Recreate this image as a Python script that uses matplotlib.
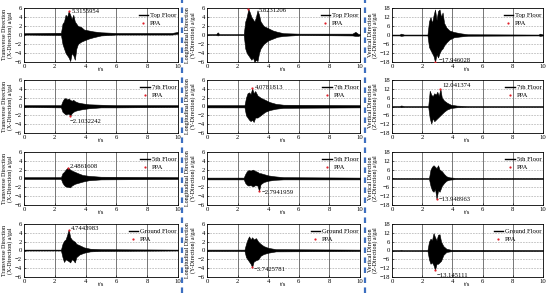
import matplotlib
matplotlib.use('Agg')
import matplotlib.pyplot as plt
from matplotlib.lines import Line2D

plt.rcParams['font.family'] = ['Liberation Serif', 'DejaVu Serif']

floors = ['Top Floor', '7th Floor', '5th Floor', 'Ground Floor']
directions = ['Transverse Direction\n(X-Direction) a/gal',
              'Longitudinal Direction\n(Y-Direction) a/gal',
              'Vertical Direction\n(Z-Direction) a/gal']

# envelope of each record: time, upper, lower
x_top_t = [0, 2.4, 2.5, 2.6, 2.7, 2.8, 2.9, 3.0, 3.1, 3.2, 3.3, 3.4, 3.5, 3.7, 3.9, 4.2, 4.5, 5.0, 6.0, 9.6, 10]
x_top_hi = [0.4, 0.5, 2.5, 3.0, 4.5, 4.0, 5.3, 4.5, 3.5, 4.5, 3.0, 2.5, 2.0, 1.8, 1.2, 1.0, 0.8, 0.6, 0.45, 0.45, 0.7]
x_top_lo = [0.1, 0.0, -2.0, -3.0, -4.0, -4.5, -5.0, -5.8, -4.0, -4.5, -5.5, -3.0, -2.0, -1.5, -1.2, -0.8, -0.5, -0.1, 0.1, 0.1, 0.3]

y_top_t = [0, 0.6, 0.7, 0.8, 2.4, 2.5, 2.6, 2.7, 2.8, 2.9, 3.0, 3.1, 3.2, 3.3, 3.4, 3.5, 3.7, 4.0, 4.3, 4.6, 5.0, 6.0, 9.5, 9.7, 9.9, 10]
y_top_hi = [0.2, 0.2, 0.6, 0.2, 0.2, 3.0, 4.0, 5.8, 5.0, 4.0, 3.5, 3.0, 4.0, 5.5, 4.5, 3.0, 2.0, 1.5, 1.0, 0.7, 0.4, 0.3, 0.3, 0.7, 0.2, 0.2]
y_top_lo = [0.0, 0.0, -0.1, 0.0, 0.0, -3.0, -4.0, -4.5, -5.0, -5.5, -5.0, -6.0, -5.5, -5.8, -4.0, -3.0, -2.0, -1.2, -0.8, -0.4, -0.2, 0.0, -0.1, -0.2, -0.2, 0.0]

z_top_t = [0, 0.5, 0.6, 0.8, 2.35, 2.45, 2.55, 2.65, 2.75, 2.85, 2.95, 3.05, 3.15, 3.25, 3.35, 3.45, 3.6, 3.8, 4.1, 4.5, 5.0, 9.7, 9.8, 10]
z_top_hi = [0.3, 0.3, 0.9, 0.3, 0.3, 9, 12, 8, 13, 17, 10, 16, 17, 12, 15, 8, 5, 3, 2, 1.2, 0.5, 0.3, 0.9, 0.3]
z_top_lo = [-0.3, -0.3, -0.6, -0.3, -0.3, -8, -10, -12, -14, -17.9, -13, -15, -12, -10, -9, -7, -5, -3, -1.5, -1, -0.5, -0.3, -0.6, -0.3]

x_7_t = [0, 2.4, 2.5, 2.6, 2.7, 2.8, 2.9, 3.0, 3.1, 3.2, 3.3, 3.5, 3.8, 4.2, 5.0, 6.0, 10]
x_7_hi = [0.3, 0.3, 1.2, 1.8, 1.9, 1.6, 1.8, 1.5, 1.3, 1.5, 1.2, 0.9, 0.7, 0.5, 0.4, 0.3, 0.3]
x_7_lo = [-0.1, -0.2, -1.2, -1.5, -1.8, -1.7, -1.6, -2.1, -1.5, -1.2, -1.0, -0.8, -0.6, -0.4, -0.2, -0.2, -0.1]

y_7_t = [0, 2.45, 2.55, 2.65, 2.75, 2.85, 2.95, 3.05, 3.15, 3.3, 3.5, 3.8, 4.1, 4.5, 5.0, 10]
y_7_hi = [0.3, 0.3, 2.0, 3.0, 3.2, 2.8, 4.08, 3.0, 3.5, 2.5, 2.0, 1.5, 1.0, 0.6, 0.4, 0.3]
y_7_lo = [-0.2, -0.2, -2.0, -2.5, -3.0, -3.3, -3.0, -3.5, -2.5, -2.5, -2.0, -1.2, -0.8, -0.5, -0.3, -0.2]

z_7_t = [0, 0.5, 0.6, 0.8, 2.4, 2.5, 2.6, 2.7, 2.8, 2.9, 3.0, 3.1, 3.2, 3.3, 3.45, 3.65, 3.9, 4.3, 5.0, 10]
z_7_hi = [0.3, 0.3, 0.7, 0.3, 0.3, 10.7, 8, 7, 9, 8, 10, 7, 12.04, 6, 4, 2.5, 1.2, 0.6, 0.3, 0.3]
z_7_lo = [-0.3, -0.3, -0.5, -0.3, -0.3, -8, -11.6, -8, -10, -9, -8, -7, -6, -5, -3.5, -2, -1, -0.5, -0.3, -0.3]

x_5_t = [0, 2.4, 2.5, 2.6, 2.7, 2.85, 3.0, 3.1, 3.3, 3.5, 3.8, 4.2, 5.0, 10]
x_5_hi = [0.3, 0.3, 1.2, 1.5, 2.0, 2.49, 2.0, 1.8, 1.5, 1.2, 0.8, 0.6, 0.4, 0.3]
x_5_lo = [-0.1, -0.1, -1.0, -1.5, -1.8, -1.9, -2.0, -1.6, -1.2, -1.0, -0.7, -0.4, -0.2, -0.1]

y_5_t = [0, 2.4, 2.5, 2.6, 2.7, 2.85, 3.0, 3.15, 3.3, 3.4, 3.5, 3.7, 4.0, 4.4, 5.0, 10]
y_5_hi = [0.2, 0.2, 1.0, 1.6, 1.9, 1.8, 2.0, 1.7, 1.5, 1.2, 1.2, 1.0, 0.7, 0.5, 0.3, 0.2]
y_5_lo = [-0.2, -0.2, -1.0, -1.4, -1.6, -1.5, -1.8, -1.5, -1.6, -2.79, -1.3, -0.8, -0.5, -0.3, -0.2, -0.2]

z_5_t = [0, 2.45, 2.55, 2.65, 2.75, 2.85, 2.95, 3.05, 3.15, 3.3, 3.45, 3.6, 3.8, 4.2, 10]
z_5_hi = [0.3, 0.3, 6, 8, 9, 8, 7, 9, 6, 5, 3, 1.5, 0.8, 0.4, 0.3]
z_5_lo = [-0.3, -0.3, -5, -8, -9, -7, -13.95, -8, -9, -5, -3, -1.5, -0.8, -0.4, -0.3]

x_g_t = [0, 2.4, 2.5, 2.6, 2.7, 2.8, 2.9, 3.0, 3.1, 3.2, 3.3, 3.4, 3.6, 3.9, 4.3, 5.0, 10]
x_g_hi = [0.2, 0.2, 1.5, 2.2, 2.5, 3.5, 4.74, 3.0, 2.5, 2.2, 2.0, 1.5, 1.2, 0.7, 0.4, 0.3, 0.2]
x_g_lo = [0.0, 0.0, -1.5, -2.6, -2.0, -2.2, -2.4, -2.7, -2.0, -2.2, -2.7, -1.5, -0.9, -0.5, -0.2, -0.1, 0.0]

y_g_t = [0, 2.45, 2.55, 2.65, 2.75, 2.85, 2.95, 3.05, 3.2, 3.35, 3.5, 3.7, 4.0, 4.5, 10]
y_g_hi = [0.2, 0.2, 1.5, 2.5, 3.2, 2.5, 3.0, 2.5, 2.8, 2.0, 1.5, 1.0, 0.6, 0.3, 0.2]
y_g_lo = [-0.1, -0.1, -1.5, -2.0, -2.5, -3.0, -3.74, -2.5, -2.2, -2.0, -1.2, -0.8, -0.5, -0.2, -0.1]

z_g_t = [0, 0.5, 0.6, 0.7, 2.35, 2.45, 2.55, 2.65, 2.75, 2.85, 2.95, 3.05, 3.15, 3.25, 3.4, 3.6, 3.9, 10]
z_g_hi = [0.3, 0.3, 0.5, 0.3, 0.3, 6, 8, 7, 11.8, 9, 7, 10.7, 11, 6, 3, 1.2, 0.5, 0.3]
z_g_lo = [-0.3, -0.3, -0.3, -0.3, -0.3, -6, -9, -8, -10, -13.15, -9, -9, -8, -7, -3, -1, -0.5, -0.3]

records = [
    [(x_top_t, x_top_hi, x_top_lo), (y_top_t, y_top_hi, y_top_lo), (z_top_t, z_top_hi, z_top_lo)],
    [(x_7_t, x_7_hi, x_7_lo), (y_7_t, y_7_hi, y_7_lo), (z_7_t, z_7_hi, z_7_lo)],
    [(x_5_t, x_5_hi, x_5_lo), (y_5_t, y_5_hi, y_5_lo), (z_5_t, z_5_hi, z_5_lo)],
    [(x_g_t, x_g_hi, x_g_lo), (y_g_t, y_g_hi, y_g_lo), (z_g_t, z_g_hi, z_g_lo)],
]

# peak particle acceleration (time, value, label)
ppa_t = [[2.9, 2.7, 2.85], [3.0, 2.95, 3.2], [2.85, 3.4, 2.95], [2.9, 2.95, 2.85]]
ppa_v = [[5.3155954, 5.8231206, -17.946028],
         [-2.1032242, 4.0781813, 12.041374],
         [2.4861608, -2.7941959, -13.948963],
         [4.7443983, -3.7425781, -13.145111]]
ppa_txt = [['5.3155954', '5.8231206', '\u221217.946028'],
           ['\u22122.1032242', '4.0781813', '12.041374'],
           ['2.4861608', '\u22122.7941959', '\u221213.948963'],
           ['4.7443983', '\u22123.7425781', '\u221213.145111']]
# label offsets (dt, dy in axis units of the column scale)
txt_off = [[(0.2, 0.0), (0.7, -0.4), (0.25, 1.0)],
           [(0.0, -1.2), (0.15, 0.2), (0.15, 2.0)],
           [(0.15, 0.3), (0.15, -0.3), (0.15, -0.5)],
           [(0.15, 0.3), (0.1, -0.6), (0.1, -4.0)]]

col_left = [24, 207, 392]
col_right = [178, 360, 543]
row_top = [8, 80, 152, 224]
row_bot = [62, 133, 205, 277]
W, H = 550, 293

fig = plt.figure(figsize=(5.5, 2.93), dpi=100)
fs = 4.8

for r in range(4):
    for c in range(3):
        ax = fig.add_axes([col_left[c] / W, 1 - row_bot[r] / H,
                           (col_right[c] - col_left[c]) / W, (row_bot[r] - row_top[r]) / H])
        lim = 6 if c < 2 else 18
        step = 2 if c < 2 else 6
        ticks = list(range(-lim, lim + 1, step))
        for y in ticks[1:-1]:
            ax.axhline(y, color='#9a9a9a', lw=0.4, ls=(0, (3, 2)), zorder=0)
        for x in [2, 4, 6, 8]:
            ax.axvline(x, color='#606060', lw=0.6, zorder=0)

        t, hi, lo = records[r][c]
        ax.fill_between(t, lo, hi, color='black', lw=0.4, zorder=2)
        ax.plot([], [], color='black', lw=1.0, label=floors[r])
        ax.plot(ppa_t[r][c], ppa_v[r][c], 'o', color='#e0202a', ms=1.6, zorder=3,
                mec='none', label='PPA')
        dt, dy = txt_off[r][c]
        ax.text(ppa_t[r][c] + dt, ppa_v[r][c] + dy, ppa_txt[r][c],
                fontsize=fs, va='center', ha='left', zorder=4)

        ax.set_xlim(0, 10)
        ax.set_ylim(-lim, lim)
        ax.set_xticks([0, 2, 4, 6, 8, 10])
        ax.set_yticks(ticks)
        ax.tick_params(labelsize=fs, length=1.2, width=0.4, pad=1.5, direction='in')
        for s in ax.spines.values():
            s.set_linewidth(0.6)
        ax.set_xlabel('t/s', fontsize=fs, labelpad=-1.5)
        ax.set_ylabel(directions[c], fontsize=4.3, labelpad=1.5 if c < 2 else 0.8,
                      linespacing=1.0)
        ax.legend(loc='upper right', fontsize=fs, frameon=False, handlelength=1.4,
                  handletextpad=0.3, labelspacing=0.3, borderaxespad=0.3,
                  bbox_to_anchor=(1.02, 1.0))

for xp in [182, 365]:
    fig.add_artist(Line2D([xp / W, xp / W], [0, 1], transform=fig.transFigure,
                          color='#3d6fc0', lw=1.6, ls=(0, (2.5, 2))))

fig.savefig('out.png', dpi=100)
